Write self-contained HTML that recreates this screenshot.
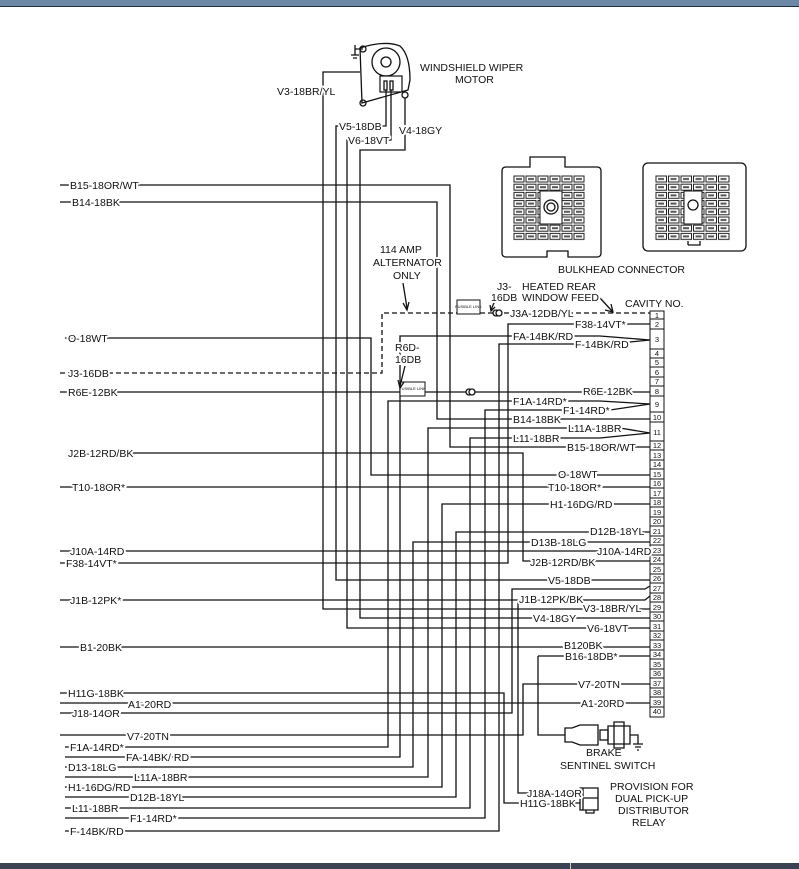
<!DOCTYPE html>
<html><head><meta charset="utf-8"><style>
html,body{margin:0;padding:0;background:#fff;width:799px;height:869px;overflow:hidden}
svg{display:block}
text{font-family:"Liberation Sans",sans-serif;font-size:10.5px;fill:#111}
.l{fill:none;stroke:#111;stroke-width:1.3}
.d{fill:none;stroke:#111;stroke-width:1.3;stroke-dasharray:5 3}
.w{stroke:#fff;stroke-width:4;paint-order:stroke;stroke-linejoin:round}
</style></head><body>
<svg width="799" height="869" viewBox="0 0 799 869" xmlns="http://www.w3.org/2000/svg">
<defs>
<pattern id="cellL" x="513" y="175" width="12" height="8.2" patternUnits="userSpaceOnUse">
<rect x="1" y="1" width="10" height="6" fill="#fff" stroke="#222" stroke-width="1"/><rect x="3" y="3" width="6" height="2" fill="#555"/></pattern>
<pattern id="cellR" x="655" y="175" width="12.5" height="8.2" patternUnits="userSpaceOnUse">
<rect x="1" y="1" width="10.5" height="6" fill="#fff" stroke="#222" stroke-width="1"/><rect x="3" y="3" width="6" height="2" fill="#555"/></pattern>
</defs>
<rect x="0" y="0" width="799" height="6" fill="#6d88a6"/>
<rect x="0" y="6" width="799" height="1" fill="#22303f"/>
<rect x="0" y="863" width="799" height="6" fill="#3b4352"/>
<rect x="570" y="863" width="1" height="6" fill="#ccc"/>

<!-- wiper motor -->
<path class="l" d="M360 48 Q385 40 400 46 Q410 55 410 80 L408 90 L362 103 Z"/>
<circle cx="386" cy="62" r="14" class="l"/><circle cx="386" cy="62" r="5" class="l"/>
<circle cx="363" cy="49" r="3" class="l"/><circle cx="363" cy="103" r="3" class="l"/><circle cx="405" cy="95" r="3" class="l"/>
<rect x="380" y="76" width="22" height="16" fill="#fff" stroke="#111" stroke-width="1.2"/>
<rect x="384" y="81" width="3" height="9" class="l"/><rect x="390" y="81" width="3" height="9" class="l"/>
<path class="l" d="M355 49 L363 49 M355 45 V55 M351 55 H359 M353 58 H357"/>
<text x="420" y="71">WINDSHIELD WIPER</text><text x="455" y="83">MOTOR</text>

<!-- bulkhead left -->
<path class="l" d="M530 167 V157 H565 V167 H597 Q601 167 601 171 V253 Q601 257 597 257 H568 V251 H547 V257 H506 Q502 257 502 253 V171 Q502 167 506 167 Z"/>
<rect x="513" y="175" width="72" height="66" fill="url(#cellL)"/>
<rect x="540" y="191" width="22" height="33" fill="#fff" stroke="#111"/>
<circle cx="551" cy="207" r="7" class="l"/><circle cx="551" cy="207" r="4" class="l"/>
<!-- bulkhead right -->
<rect x="643" y="163" width="103" height="88" rx="5" class="l"/>
<rect x="655" y="175" width="75" height="66" fill="url(#cellR)"/>
<rect x="684" y="191" width="18" height="33" fill="#fff" stroke="#111"/>
<circle cx="693" cy="205" r="5" class="l"/>
<path class="l" d="M688 245 H700 V241 M688 245 V241"/>
<text x="558" y="273">BULKHEAD CONNECTOR</text>

<!-- connector cavities -->
<g fill="#fff" stroke="#111" stroke-width="1">
<rect x="650" y="311" width="14" height="406"/>
</g>
<g stroke="#111" stroke-width="1">
<line x1="650" y1="319" x2="664" y2="319"/><line x1="650" y1="329" x2="664" y2="329"/><line x1="650" y1="349" x2="664" y2="349"/>
<line x1="650" y1="358" x2="664" y2="358"/><line x1="650" y1="367" x2="664" y2="367"/><line x1="650" y1="377" x2="664" y2="377"/><line x1="650" y1="386" x2="664" y2="386"/><line x1="650" y1="396" x2="664" y2="396"/>
<line x1="650" y1="412" x2="664" y2="412"/><line x1="650" y1="422" x2="664" y2="422"/><line x1="650" y1="441" x2="664" y2="441"/>
<line x1="650" y1="450" x2="664" y2="450"/><line x1="650" y1="460" x2="664" y2="460"/><line x1="650" y1="469" x2="664" y2="469"/><line x1="650" y1="479" x2="664" y2="479"/><line x1="650" y1="488" x2="664" y2="488"/><line x1="650" y1="498" x2="664" y2="498"/><line x1="650" y1="507" x2="664" y2="507"/><line x1="650" y1="517" x2="664" y2="517"/><line x1="650" y1="526" x2="664" y2="526"/><line x1="650" y1="536" x2="664" y2="536"/><line x1="650" y1="545" x2="664" y2="545"/><line x1="650" y1="555" x2="664" y2="555"/><line x1="650" y1="564" x2="664" y2="564"/><line x1="650" y1="574" x2="664" y2="574"/><line x1="650" y1="583" x2="664" y2="583"/><line x1="650" y1="593" x2="664" y2="593"/><line x1="650" y1="602" x2="664" y2="602"/><line x1="650" y1="612" x2="664" y2="612"/><line x1="650" y1="621" x2="664" y2="621"/><line x1="650" y1="631" x2="664" y2="631"/><line x1="650" y1="640" x2="664" y2="640"/><line x1="650" y1="650" x2="664" y2="650"/><line x1="650" y1="659" x2="664" y2="659"/><line x1="650" y1="669" x2="664" y2="669"/><line x1="650" y1="678" x2="664" y2="678"/><line x1="650" y1="688" x2="664" y2="688"/><line x1="650" y1="697" x2="664" y2="697"/><line x1="650" y1="707" x2="664" y2="707"/>
</g>
<g text-anchor="middle">
<text x="657" y="318" style="font-size:7.5px">1</text><text x="657" y="327" style="font-size:7.5px">2</text><text x="657" y="342" style="font-size:7.5px">3</text><text x="657" y="356" style="font-size:7.5px">4</text><text x="657" y="365" style="font-size:7.5px">5</text><text x="657" y="375" style="font-size:7.5px">6</text><text x="657" y="384" style="font-size:7.5px">7</text><text x="657" y="394" style="font-size:7.5px">8</text><text x="657" y="407" style="font-size:7.5px">9</text><text x="657" y="420" style="font-size:7.5px">10</text><text x="657" y="435" style="font-size:7.5px">11</text><text x="657" y="448" style="font-size:7.5px">12</text><text x="657" y="458" style="font-size:7.5px">13</text><text x="657" y="467" style="font-size:7.5px">14</text><text x="657" y="477" style="font-size:7.5px">15</text><text x="657" y="486" style="font-size:7.5px">16</text><text x="657" y="496" style="font-size:7.5px">17</text><text x="657" y="505" style="font-size:7.5px">18</text><text x="657" y="515" style="font-size:7.5px">19</text><text x="657" y="524" style="font-size:7.5px">20</text><text x="657" y="534" style="font-size:7.5px">21</text><text x="657" y="543" style="font-size:7.5px">22</text><text x="657" y="553" style="font-size:7.5px">23</text><text x="657" y="562" style="font-size:7.5px">24</text><text x="657" y="572" style="font-size:7.5px">25</text><text x="657" y="581" style="font-size:7.5px">26</text><text x="657" y="591" style="font-size:7.5px">27</text><text x="657" y="600" style="font-size:7.5px">28</text><text x="657" y="610" style="font-size:7.5px">29</text><text x="657" y="619" style="font-size:7.5px">30</text><text x="657" y="629" style="font-size:7.5px">31</text><text x="657" y="638" style="font-size:7.5px">32</text><text x="657" y="648" style="font-size:7.5px">33</text><text x="657" y="657" style="font-size:7.5px">34</text><text x="657" y="667" style="font-size:7.5px">35</text><text x="657" y="676" style="font-size:7.5px">36</text><text x="657" y="686" style="font-size:7.5px">37</text><text x="657" y="695" style="font-size:7.5px">38</text><text x="657" y="705" style="font-size:7.5px">39</text><text x="657" y="714" style="font-size:7.5px">40</text>
</g>

<!-- wires -->
<g class="l">
<path d="M60 185 H450 V447 H650"/>
<path d="M60 202 H437 V419 H650"/>
<path d="M360 72 H323 V609 H650"/>
<path d="M386 90 V126 H336 V580 H650"/>
<path d="M391 90 V140 H347 V628 H650"/>
<path d="M405 98 V150 H360 V618 H650"/>
<path d="M65 338 H371 V475 H650"/>
<path d="M60 392 H650"/>
<path d="M75 453 H523 V561 H650"/>
<path d="M60 487 H650"/>
<path d="M60 551 H650"/>
<path d="M60 563 H508 V324 H650"/>
<path d="M60 600 H645 L650 596"/>
<path d="M60 647 H650"/>
<path d="M60 693 H504 V803 H580"/>
<path d="M60 703 H650"/>
<path d="M60 713 H512 V589 H645 L650 586"/>
<path d="M518 600 V793 H580"/>
<path d="M60 735 H523 V684 H650"/>
<path d="M538 656 H650 M538 656 V735 H565"/>
<path d="M65 747 H388 V401 H600 L650 404"/>
<path d="M65 757 H400 V336 H600 L650 340"/>
<path d="M65 767 H413 V542 H650"/>
<path d="M65 777 H428 V428 H620 L650 433"/>
<path d="M65 787 H442 V504 H650"/>
<path d="M65 797 H456 V532 H650"/>
<path d="M65 808 H470 V438 H600 L650 433"/>
<path d="M65 818 H485 V410 H610 L650 404"/>
<path d="M65 831 H499 V344 H610 L650 340"/>
</g>
<path class="d" d="M60 373 H382 V313 H457 M480 313 H650"/>

<!-- fusible links & splices -->
<rect x="457" y="300" width="23" height="14" fill="#fff" stroke="#111"/>
<text x="468.5" y="308" text-anchor="middle" style="font-size:4px">FUSIBLE LINK</text>
<circle cx="496" cy="313" r="3" fill="#fff" stroke="#111" stroke-width="1.3"/><circle cx="499" cy="313" r="3" fill="#fff" stroke="#111" stroke-width="1.3"/>
<rect x="400" y="382" width="25" height="14" fill="#fff" stroke="#111"/>
<text x="412.5" y="390" text-anchor="middle" style="font-size:4px">FUSIBLE LINK</text>
<circle cx="469" cy="392" r="3" fill="#fff" stroke="#111" stroke-width="1.3"/><circle cx="472" cy="392" r="3" fill="#fff" stroke="#111" stroke-width="1.3"/>

<!-- arrows -->
<path class="l" d="M403 283 L407 308 M403 303 L407 310 L409 302"/>
<path class="l" d="M405 366 L400 386 M398 380 L400 388 L404 382"/>
<path class="l" d="M496 298 L491 310 M490 305 L491 311 L495 307"/>
<path class="l" d="M600 298 L612 311 M605 310 L613 312 L611 304"/>

<!-- brake switch -->
<path class="l" d="M565 728 H572 L580 725 H598 V745 H580 L572 742 H565 Z"/>
<rect x="600" y="730" width="8" height="10" class="l"/>
<path class="l" d="M608 726 H630 V744 H608 Z M614 722 H624 V748 H614 Z"/>
<path class="l" d="M630 735 H638 V744 M633 744 H643 M635 747 H641 M637 750 H639"/>
<text x="586" y="756">BRAKE</text><text x="560" y="769">SENTINEL SWITCH</text>
<!-- relay -->
<path class="l" d="M580 788 H598 V810 H580 Z M583 788 V810 M583 798 H598 M586 810 V813 H594 V810"/>
<text x="610" y="790">PROVISION FOR</text><text x="615" y="802">DUAL PICK-UP</text><text x="618" y="814">DISTRIBUTOR</text><text x="632" y="826">RELAY</text>

<!-- top labels -->
<g>
<text x="277" y="95" class="w">V3-18BR/YL</text>
<text x="339" y="130" class="w">V5-18DB</text>
<text x="348" y="144" class="w">V6-18VT</text>
<text x="399" y="134" class="w">V4-18GY</text>
<text x="380" y="253" class="w">114 AMP</text>
<text x="373" y="266" class="w">ALTERNATOR</text>
<text x="393" y="279" class="w">ONLY</text>
<text x="497" y="290" class="w">J3-</text>
<text x="491" y="301" class="w">16DB</text>
<text x="522" y="290" class="w">HEATED REAR</text>
<text x="522" y="301" class="w">WINDOW FEED</text>
<text x="625" y="307" class="w">CAVITY NO.</text>
<text x="395" y="351" class="w">R6D-</text>
<text x="395" y="363" class="w">16DB</text>
</g>
<!-- left labels -->
<g>
<text x="70" y="189" class="w">B15-18OR/WT</text>
<text x="72" y="206" class="w">B14-18BK</text>
<text x="68" y="342" class="w">O-18WT</text>
<text x="68" y="377" class="w">J3-16DB</text>
<text x="68" y="396" class="w">R6E-12BK</text>
<text x="68" y="457" class="w">J2B-12RD/BK</text>
<text x="72" y="491" class="w">T10-18OR*</text>
<text x="70" y="555" class="w">J10A-14RD</text>
<text x="66" y="567" class="w">F38-14VT*</text>
<text x="70" y="604" class="w">J1B-12PK*</text>
<text x="80" y="651" class="w">B1-20BK</text>
<text x="68" y="697" class="w">H11G-18BK</text>
<text x="128" y="708" class="w">A1-20RD</text>
<text x="72" y="717" class="w">J18-14OR</text>
<text x="127" y="740" class="w">V7-20TN</text>
<text x="70" y="751" class="w">F1A-14RD*</text>
<text x="126" y="761" class="w">FA-14BK/ RD</text>
<text x="68" y="771" class="w">D13-18LG</text>
<text x="134" y="781" class="w">L11A-18BR</text>
<text x="68" y="791" class="w">H1-16DG/RD</text>
<text x="130" y="801" class="w">D12B-18YL</text>
<text x="72" y="812" class="w">L11-18BR</text>
<text x="130" y="822" class="w">F1-14RD*</text>
<text x="70" y="835" class="w">F-14BK/RD</text>
</g>
<!-- right labels -->
<g>
<text x="510" y="317" class="w">J3A-12DB/YL</text>
<text x="575" y="328" class="w">F38-14VT*</text>
<text x="513" y="340" class="w">FA-14BK/RD</text>
<text x="575" y="348" class="w">F-14BK/RD</text>
<text x="583" y="395" class="w">R6E-12BK</text>
<text x="513" y="405" class="w">F1A-14RD*</text>
<text x="563" y="414" class="w">F1-14RD*</text>
<text x="513" y="423" class="w">B14-18BK</text>
<text x="568" y="432" class="w">L11A-18BR</text>
<text x="513" y="442" class="w">L11-18BR</text>
<text x="567" y="451" class="w">B15-18OR/WT</text>
<text x="558" y="478" class="w">O-18WT</text>
<text x="548" y="491" class="w">T10-18OR*</text>
<text x="550" y="508" class="w">H1-16DG/RD</text>
<text x="590" y="535" class="w">D12B-18YL</text>
<text x="531" y="546" class="w">D13B-18LG</text>
<text x="597" y="555" class="w">J10A-14RD</text>
<text x="530" y="566" class="w">J2B-12RD/BK</text>
<text x="548" y="584" class="w">V5-18DB</text>
<text x="519" y="603" class="w">J1B-12PK/BK</text>
<text x="583" y="612" class="w">V3-18BR/YL</text>
<text x="533" y="622" class="w">V4-18GY</text>
<text x="587" y="632" class="w">V6-18VT</text>
<text x="564" y="649" class="w">B120BK</text>
<text x="565" y="660" class="w">B16-18DB*</text>
<text x="578" y="688" class="w">V7-20TN</text>
<text x="581" y="707" class="w">A1-20RD</text>
<text x="527" y="797" class="w">J18A-14OR</text>
<text x="520" y="807" class="w">H11G-18BK</text>
</g>
</svg>
</body></html>
